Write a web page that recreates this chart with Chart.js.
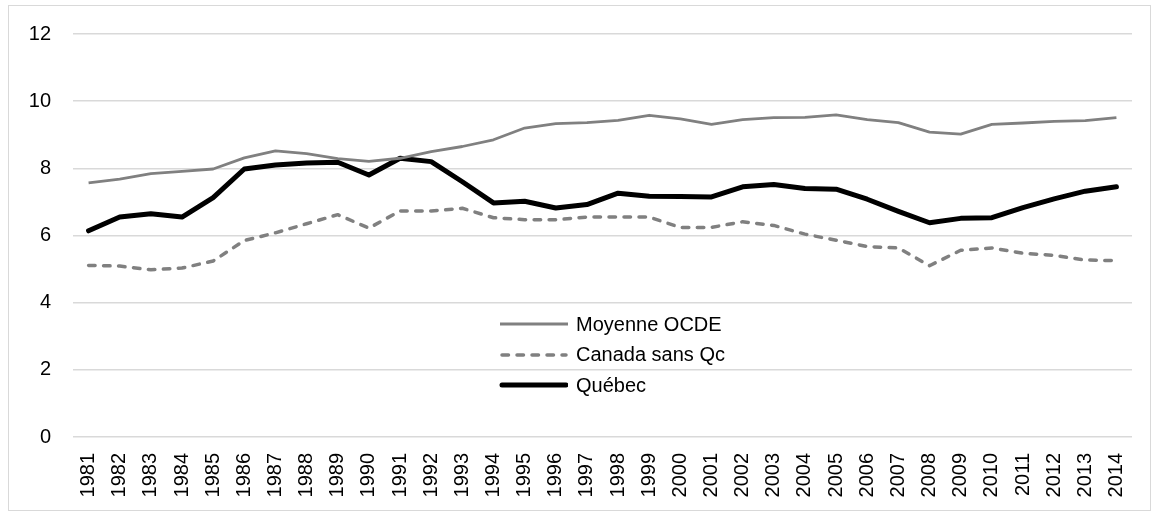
<!DOCTYPE html>
<html>
<head>
<meta charset="utf-8">
<script src="https://cdn.jsdelivr.net/npm/chart.js@4"></script>
<style>
  body { margin: 0; background: #fff; font-family: "Liberation Sans", Arial, sans-serif; }
  #wrap { position: absolute; left: 8px; top: 5px; width: 1141px; height: 504px; border: 1px solid #d9d9d9; }
  #chart { display: block; }
  #legend { position: absolute; left: 482px; top: 303px; }
  .row { display: flex; align-items: center; height: 30.5px; font-size: 20px; color: #000; }
  .row svg { margin-right: 8px; }
</style>
</head>
<body>
<div id="wrap">
  <canvas id="chart" width="1141" height="504"></canvas>
  <div id="legend"></div>
</div>
<script>
// Années
const years = [];
for (let y = 1981; y <= 2014; y++) years.push(String(y));

// Séries
const ocde = [7.57, 7.68, 7.84, 7.91, 7.98, 8.31, 8.52, 8.44, 8.29, 8.21, 8.30, 8.50, 8.65, 8.85, 9.20, 9.33, 9.36, 9.43, 9.58, 9.47, 9.31, 9.45, 9.51, 9.52, 9.59, 9.45, 9.36, 9.08, 9.02, 9.31, 9.35, 9.40, 9.42, 9.51];
const canadaSansQc = [5.11, 5.09, 4.98, 5.03, 5.24, 5.85, 6.08, 6.35, 6.62, 6.22, 6.73, 6.73, 6.81, 6.53, 6.47, 6.47, 6.55, 6.55, 6.55, 6.24, 6.24, 6.41, 6.30, 6.04, 5.86, 5.67, 5.63, 5.10, 5.56, 5.63, 5.47, 5.41, 5.27, 5.25];
const quebec = [6.14, 6.55, 6.65, 6.55, 7.13, 7.98, 8.10, 8.16, 8.18, 7.80, 8.30, 8.20, 7.60, 6.97, 7.02, 6.82, 6.92, 7.26, 7.17, 7.16, 7.15, 7.45, 7.52, 7.40, 7.38, 7.08, 6.72, 6.38, 6.51, 6.53, 6.83, 7.09, 7.32, 7.45];
const yTicks = [0, 2, 4, 6, 8, 10, 12];

const datasets = [
    { label: 'Moyenne OCDE', data: ocde, borderColor: '#808080', borderWidth: 2.8, borderDash: [], borderCapStyle: 'butt' },
    { label: 'Canada sans Qc', data: canadaSansQc, borderColor: '#808080', borderWidth: 3.5, borderDash: [6.5, 8.5], borderCapStyle: 'round' },
    { label: 'Québec', data: quebec, borderColor: '#000000', borderWidth: 5, borderDash: [], borderCapStyle: 'round' }
];
datasets.forEach(d => {
    d.pointRadius = 0;
    d.tension = 0;
    d.fill = false;
    d.borderJoinStyle = 'round';
});

const tickFont = { family: '"Liberation Sans", Arial, sans-serif', size: 20 };

new Chart(document.getElementById('chart'), {
    type: 'line',
    data: { labels: years, datasets: datasets },
    options: {
        responsive: false,
        animation: false,
        layout: { padding: { top: 28, right: 18, bottom: 0, left: 0 } },
        plugins: { legend: { display: false }, tooltip: { enabled: false } },
        scales: {
            x: {
                offset: true,
                grid: { display: false },
                border: { display: false },
                ticks: { color: '#000', font: tickFont, minRotation: 90, maxRotation: 90, autoSkip: false, padding: 8 },
                afterFit: s => { s.height = 73; }
            },
            y: {
                min: 0, max: 12,
                afterBuildTicks: s => { s.ticks = yTicks.map(v => ({ value: v })); },
                grid: { color: '#d9d9d9', lineWidth: 1.5, drawTicks: false },
                border: { display: false },
                ticks: { color: '#000', font: tickFont, padding: 22 },
                // largeur fixe, pas de marge auto en haut
                afterFit: s => { s.width = 64; s.paddingTop = 0; s.paddingBottom = 0; }
            }
        }
    }
});

// Légende HTML
const legend = document.getElementById('legend');
datasets.forEach(d => {
    const row = document.createElement('div');
    row.className = 'row';
    const dash = d.borderDash.length ? d.borderDash.join(',') : 'none';
    const cap = d.borderCapStyle;
    const x1 = cap === 'round' ? 11 : 9;
    const x2 = cap === 'round' ? 75 : 77;
    row.innerHTML = '<svg width="77" height="10"><line x1="' + x1 + '" y1="5" x2="' + x2 + '" y2="5" stroke="' + d.borderColor +
        '" stroke-width="' + d.borderWidth + '" stroke-dasharray="' + dash + '" stroke-linecap="' + cap + '"/></svg><span>' + d.label + '</span>';
    legend.appendChild(row);
});
</script>
</body>
</html>
